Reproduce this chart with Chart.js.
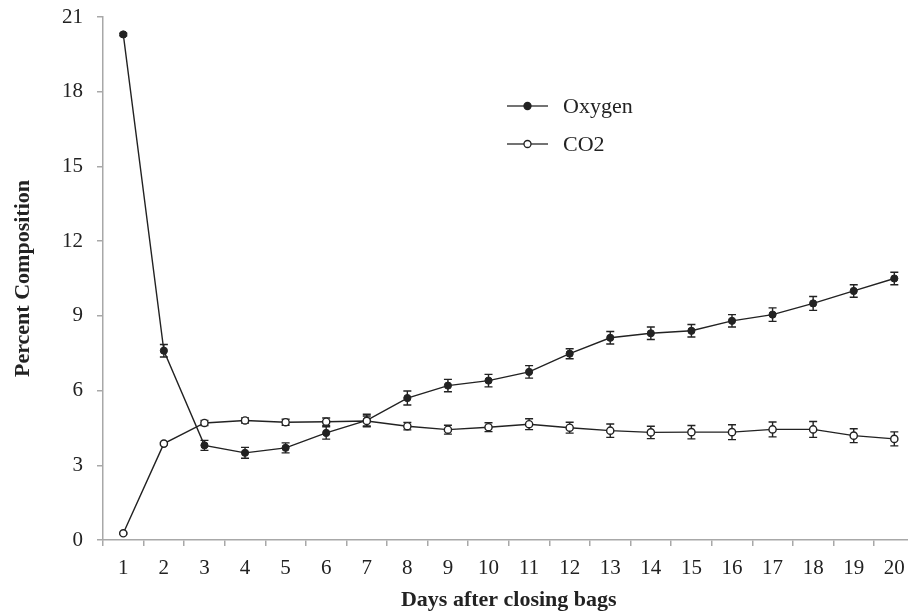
<!DOCTYPE html>
<html>
<head>
<meta charset="utf-8">
<script src="https://cdn.jsdelivr.net/npm/chart.js@4"></script>
<style>
  html, body { margin: 0; padding: 0; background: #fff; overflow: hidden; }
  #wrap { width: 920px; height: 611px; }
</style>
</head>
<body>
<div id="wrap"><canvas id="c" width="920" height="611"></canvas></div>
<script>
const days = ['1','2','3','4','5','6','7','8','9','10','11','12','13','14','15','16','17','18','19','20'];
const oxygen = [20.3, 7.6, 3.8, 3.5, 3.7, 4.3, 4.8, 5.7, 6.2, 6.4, 6.75, 7.48, 8.12, 8.3, 8.4, 8.8, 9.05, 9.5, 10.0, 10.5];
const oxygenErr = [0.05, 0.25, 0.2, 0.22, 0.2, 0.25, 0.25, 0.28, 0.25, 0.25, 0.25, 0.2, 0.25, 0.25, 0.25, 0.25, 0.27, 0.28, 0.25, 0.25];
const co2 = [0.27, 3.87, 4.7, 4.8, 4.73, 4.75, 4.78, 4.57, 4.43, 4.53, 4.65, 4.51, 4.39, 4.32, 4.33, 4.33, 4.44, 4.44, 4.19, 4.06];
const co2Err = [0.03, 0.05, 0.1, 0.1, 0.12, 0.15, 0.2, 0.15, 0.18, 0.18, 0.22, 0.22, 0.27, 0.25, 0.27, 0.3, 0.3, 0.32, 0.28, 0.28];
const yTicks = [0, 3, 6, 9, 12, 15, 18, 21];

const INK = '#222222';
const AXIS = '#a8a8a8';
const SERIF = '"Liberation Serif", "Times New Roman", serif';

const errorBars = {
  id: 'errorBars',
  beforeDatasetsDraw(chart) {
    const ctx = chart.ctx;
    const y = chart.scales.y;
    ctx.save();
    ctx.strokeStyle = INK;
    ctx.lineWidth = 1.4;
    chart.data.datasets.forEach((ds, i) => {
      const meta = chart.getDatasetMeta(i);
      meta.data.forEach((pt, j) => {
        const e = ds.errors[j];
        const top = y.getPixelForValue(ds.data[j] + e);
        const bot = y.getPixelForValue(ds.data[j] - e);
        const x = pt.x, cw = 4;
        ctx.beginPath();
        ctx.moveTo(x, top); ctx.lineTo(x, bot);
        ctx.moveTo(x - cw, top); ctx.lineTo(x + cw, top);
        ctx.moveTo(x - cw, bot); ctx.lineTo(x + cw, bot);
        ctx.stroke();
      });
    });
    ctx.restore();
  }
};

const insideLegend = {
  id: 'insideLegend',
  afterDraw(chart, args, opts) {
    const ctx = chart.ctx;
    ctx.save();
    chart.data.datasets.forEach((ds, i) => {
      const yy = opts.y + i * opts.gap;
      ctx.strokeStyle = '#444';
      ctx.lineWidth = 1.6;
      ctx.beginPath();
      ctx.moveTo(opts.x, yy); ctx.lineTo(opts.x + opts.len, yy);
      ctx.stroke();
      ctx.beginPath();
      ctx.arc(opts.x + opts.len / 2, yy, 3.5, 0, Math.PI * 2);
      ctx.fillStyle = ds.pointBackgroundColor;
      ctx.fill();
      ctx.lineWidth = 1.3;
      ctx.strokeStyle = INK;
      ctx.stroke();
      ctx.fillStyle = INK;
      ctx.font = '22px ' + SERIF;
      ctx.textBaseline = 'middle';
      ctx.textAlign = 'left';
      ctx.fillText(ds.label, opts.x + opts.len + 15, yy + 1);
    });
    ctx.restore();
  }
};

new Chart(document.getElementById('c'), {
  type: 'line',
  data: {
    labels: days,
    datasets: [
      {
        label: 'Oxygen', data: oxygen, errors: oxygenErr, order: 1,
        borderColor: INK, borderWidth: 1.4, tension: 0,
        pointRadius: 3.6, pointBackgroundColor: INK, pointBorderColor: INK, pointBorderWidth: 1
      },
      {
        label: 'CO2', data: co2, errors: co2Err, order: 0,
        borderColor: INK, borderWidth: 1.4, tension: 0,
        pointRadius: 3.6, pointBackgroundColor: '#ffffff', pointBorderColor: INK, pointBorderWidth: 1.4
      }
    ]
  },
  options: {
    responsive: false,
    animation: false,
    devicePixelRatio: 1,
    layout: { padding: { top: 17, right: 0, bottom: 0, left: 0 } },
    plugins: {
      legend: { display: false },
      tooltip: { enabled: false },
      insideLegend: { x: 507, y: 106, gap: 38, len: 41 }
    },
    scales: {
      x: {
        type: 'category',
        offset: true,
        afterFit(s) { s.height = 71; },
        grid: { offset: true, drawOnChartArea: false, drawTicks: true, tickLength: 6, color: AXIS, lineWidth: 1.5 },
        border: { display: true, color: AXIS, width: 1.5 },
        ticks: { color: INK, font: { family: SERIF, size: 21 }, padding: 10, maxRotation: 0, autoSkip: false },
        title: { display: true, text: 'Days after closing bags', color: INK,
                 font: { family: SERIF, size: 22, weight: 'bold' }, padding: { top: 0, bottom: -3 } }
      },
      y: {
        min: 0, max: 21,
        afterFit(s) { s.width = 103; s.paddingTop = 0; s.paddingBottom = 0; },
        afterBuildTicks(s) { s.ticks = yTicks.map(v => ({ value: v })); },
        grid: { drawOnChartArea: false, drawTicks: true, tickLength: 6, color: AXIS, lineWidth: 1.5 },
        border: { display: true, color: AXIS, width: 1.5 },
        ticks: { color: INK, font: { family: SERIF, size: 21 }, padding: 14 },
        title: { display: true, text: 'Percent Composition', color: INK,
                 font: { family: SERIF, size: 22, weight: 'bold' }, padding: { top: 10, bottom: 0 } }
      }
    }
  },
  plugins: [errorBars, insideLegend]
});
</script>
</body>
</html>
